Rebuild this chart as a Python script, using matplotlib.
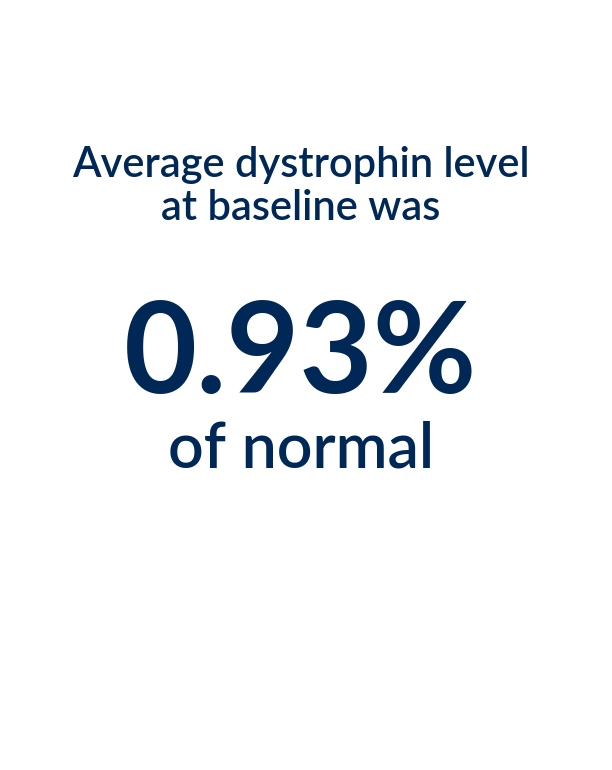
import matplotlib.pyplot as plt

headline = ["Average dystrophin level", "at baseline was"]
value = 0.93
unit_label = "of normal"
navy = "#002856"

fig = plt.figure(figsize=(6.12, 7.70), dpi=100)
fig.patch.set_facecolor("white")

cx = 301 / 612
def fy(px):
    return 1 - px / 770

fig.text(cx, fy(177), headline[0], ha="center", va="baseline",
         fontsize=30, family="Lato", weight="semibold", color=navy)
fig.text(cx, fy(220), headline[1], ha="center", va="baseline",
         fontsize=30, family="Lato", weight="semibold", color=navy)
fig.text(cx, fy(393), f"{value:.2f}%", ha="center", va="baseline",
         fontsize=91, family="Lato", weight="bold", color=navy)
fig.text(cx, fy(467), unit_label, ha="center", va="baseline",
         fontsize=45, family="Lato", weight="semibold", color=navy)

fig.savefig("out.png", dpi=100, facecolor="white")
